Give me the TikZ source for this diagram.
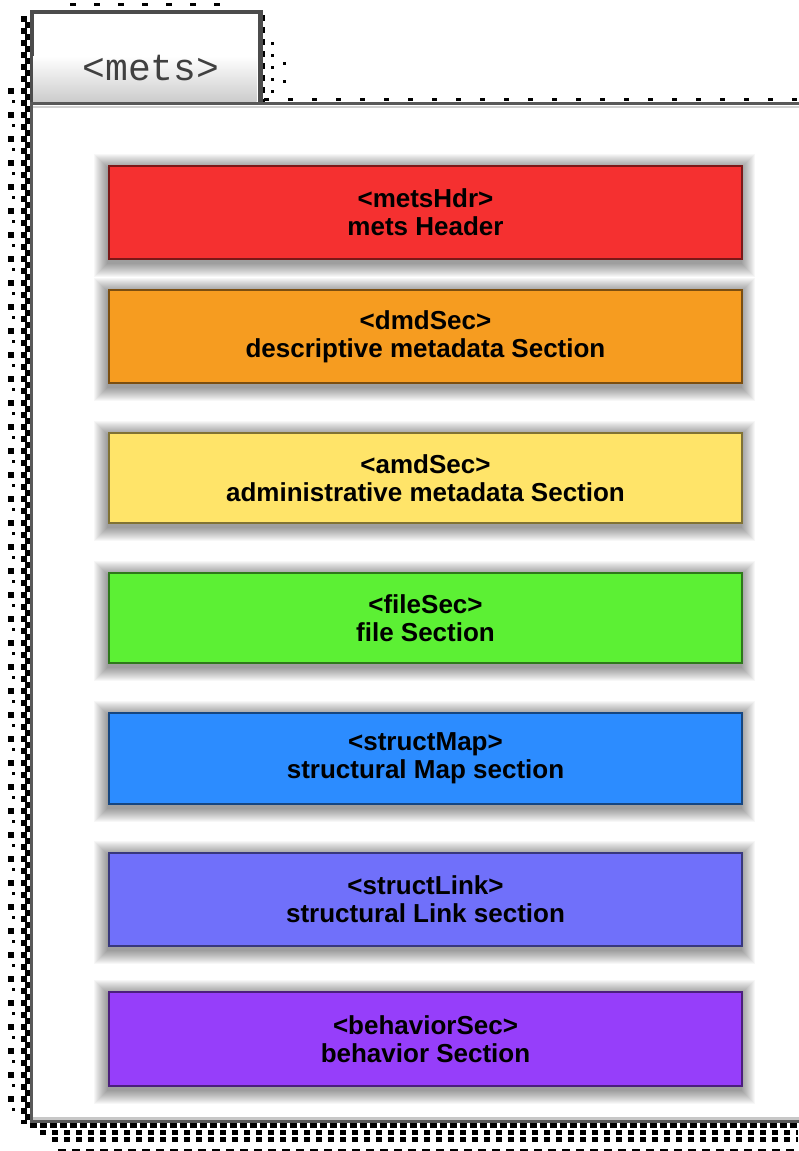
\documentclass[tikz,border=0pt]{standalone}
\usepackage{fontspec}
\setmainfont{Liberation Sans}
\newfontfamily\tabfont{Liberation Mono}
\definecolor{cRed}{RGB}{245,48,48}
\definecolor{cOrange}{RGB}{246,156,32}
\definecolor{cYellow}{RGB}{255,228,105}
\definecolor{cGreen}{RGB}{92,240,52}
\definecolor{cBlue}{RGB}{44,140,255}
\definecolor{cPeri}{RGB}{112,112,250}
\definecolor{cPurple}{RGB}{150,62,250}
\newcommand\metsbox[6]{%
  \foreach \k in {1,2,...,14}{\fill[black,opacity=0.03] (108-\k,#2+3-\k) rectangle (741+\k,#2+#6+5+\k);}
  \node[secbox, minimum height=#6pt, fill=#3, draw=#3!50!black, anchor=north west] (#1) at (108,#2) {#4\\#5};
}
\begin{document}
\begin{tikzpicture}[x=1pt,y=-1pt,
  secbox/.style={rectangle, minimum width=633pt, inner sep=0pt, line width=2pt, align=center,
    font=\bfseries\fontsize{26}{28}\selectfont, text=black},
  frameline/.style={draw=black!65, line width=3pt},
  dith/.style={black, line width=6pt}]
\useasboundingbox (0,0) rectangle (798,1151);
\fill[white] (0,0) rectangle (798,1151);
% dithered outer shadow (left)
\draw[dith, dash pattern=on 6pt off 6pt] (24,16) -- (24,1124);
\draw[dith, dash pattern=on 6pt off 6pt, dash phase=6pt] (28,16) -- (28,1124);
\draw[dith, dash pattern=on 6pt off 18pt] (11,88) -- (11,1112);
\draw[black, line width=3pt, dash pattern=on 3pt off 21pt, dash phase=-12pt] (13,88) -- (13,1112);
% dithered outer shadow (bottom)
\draw[black, line width=5pt, dash pattern=on 7pt off 3pt] (30,1125.5) -- (798,1125.5);
\draw[dith, line width=5pt, dash pattern=on 6pt off 6pt] (40,1132.5) -- (798,1132.5);
\draw[dith, line width=5pt, dash pattern=on 6pt off 6pt, dash phase=6pt] (46,1139) -- (798,1139);
\draw[black, line width=2pt, dash pattern=on 8pt off 6pt] (58,1150) -- (798,1150);
% dithered shadow around the tab
\draw[dith, dash pattern=on 6pt off 6pt] (262,15) -- (262,103);
\draw[black, line width=3pt, dash pattern=on 6pt off 18pt] (70,4) -- (222,4);
\draw[black, line width=3pt, dash pattern=on 3pt off 9pt] (272,42) -- (272,98);
\draw[black, line width=3pt, dash pattern=on 3pt off 15pt] (284,62) -- (284,98);
\draw[black, line width=3pt, dash pattern=on 5pt off 19pt] (264,99.5) -- (798,99.5);
% tab
\node[draw=black!70, line width=3pt, fill=white, minimum width=227pt, minimum height=92pt,
  anchor=north west, inner sep=0pt] (tab) at (31,11) {};
\shade[top color=white, bottom color=black!20] (32.5,56) rectangle (256.5,101.5);
\draw[black!70, line width=3pt] (tab.south west) -- (tab.north west) -- (tab.north east) -- (tab.south east);
\node[anchor=base, font=\tabfont\fontsize{38}{40}\selectfont, text=black!75, inner sep=0pt] (tabtext) at (151,80) {<mets>};
% main frame
\fill[white] (32.5,104.5) rectangle (800,1119.5);
\draw[black!18, line width=2pt] (33,106.5) -- (800,106.5);
\draw[black!22, line width=3pt] (33,1118) -- (800,1118);
\draw[frameline] (801,103) -- (31,103) -- (31,1121) -- (801,1121);
% sections
\metsbox{hdr}{165}{cRed}{<metsHdr>}{mets Header}{93}
\metsbox{dmd}{289}{cOrange}{<dmdSec>}{descriptive metadata Section}{93}
\metsbox{amd}{432}{cYellow}{<amdSec>}{administrative metadata Section}{90}
\metsbox{file}{572}{cGreen}{<fileSec>}{file Section}{90}
\metsbox{smap}{712}{cBlue}{<structMap>}{structural Map section}{91}
\metsbox{slink}{852}{cPeri}{<structLink>}{structural Link section}{93}
\metsbox{behav}{991}{cPurple}{<behaviorSec>}{behavior Section}{94}
\end{tikzpicture}
\end{document}
